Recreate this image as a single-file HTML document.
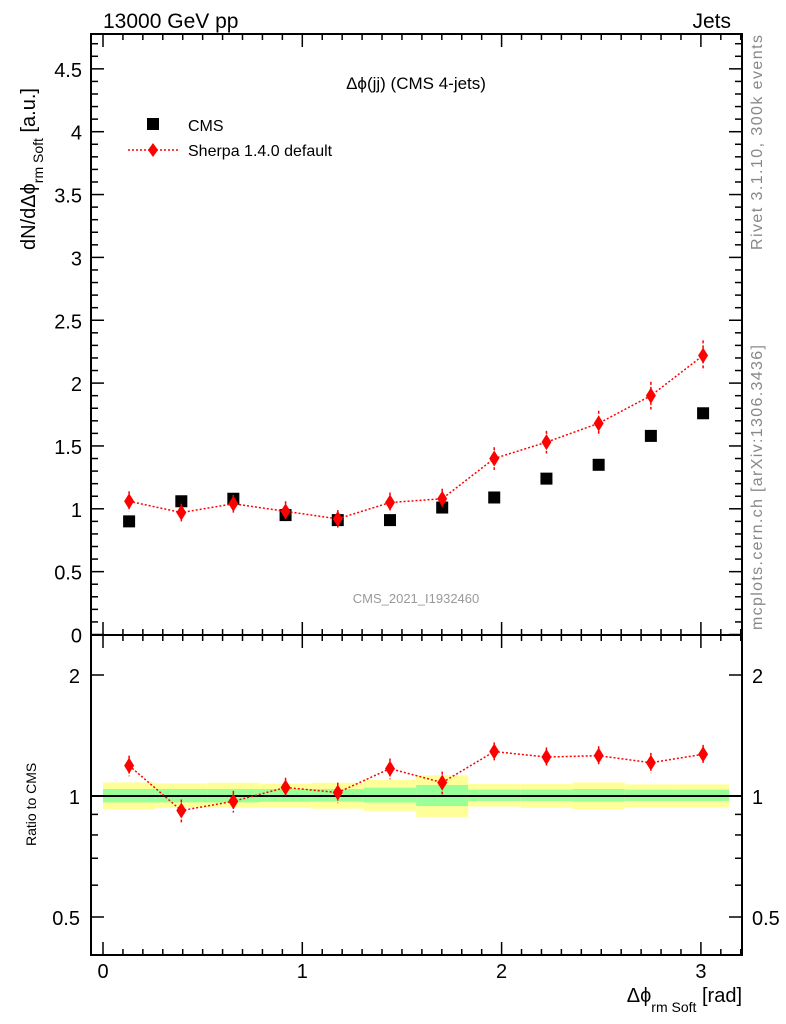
<!DOCTYPE html>
<html><head><meta charset="utf-8"><style>
body{margin:0;background:#fff;}
svg{display:block;font-family:"Liberation Sans",sans-serif;}
</style></head><body>
<svg id="c" width="786" height="1024" viewBox="0 0 786 1024">
<g id="bands"></g>
<g id="axes"></g>
<g id="marks"></g>
<text x="103" y="28" font-size="21">13000 GeV pp</text>
<text x="731" y="28" font-size="21" text-anchor="end">Jets</text>
<text x="416" y="89" font-size="17" text-anchor="middle">Δϕ(jj) (CMS 4-jets)</text>
<rect x="147" y="118" width="12" height="12" fill="#000"/>
<text x="188" y="131" font-size="16">CMS</text>
<line x1="128" y1="150" x2="178" y2="150" stroke="red" stroke-width="1.5" stroke-dasharray="2,2"/>
<polygon points="153,143 158,150 153,157 148,150" fill="red"/>
<text x="188" y="156" font-size="16">Sherpa 1.4.0 default</text>
<text x="416" y="603" font-size="13" fill="#999" text-anchor="middle">CMS_2021_I1932460</text>
<text transform="translate(762,250) rotate(-90)" font-size="16" fill="#888" textLength="215">Rivet 3.1.10,  300k events</text>
<text transform="translate(762,630) rotate(-90)" font-size="16" fill="#888" textLength="285">mcplots.cern.ch [arXiv:1306.3436]</text>
<text transform="translate(35,250) rotate(-90)" font-size="20">dN/dΔϕ<tspan font-size="14" dy="8">rm Soft</tspan><tspan dy="-8"> [a.u.]</tspan></text>
<text transform="translate(36,846) rotate(-90)" font-size="14">Ratio to CMS</text>
<text x="742" y="1002" font-size="20" text-anchor="end">Δϕ<tspan font-size="14" dy="10">rm Soft</tspan><tspan dy="-10"> [rad]</tspan></text>
</svg>
<script>
const categories=[0.131,0.393,0.654,0.916,1.178,1.440,1.702,1.963,2.225,2.487,2.749,3.011];
const binWidth=0.2618;
const cmsValues=[0.90,1.06,1.08,0.95,0.91,0.91,1.01,1.09,1.24,1.35,1.58,1.76];
const sherpaValues=[1.06,0.97,1.04,0.98,0.92,1.05,1.08,1.40,1.53,1.68,1.90,2.22];
const sherpaErrors=[0.08,0.07,0.07,0.08,0.07,0.08,0.08,0.09,0.09,0.10,0.11,0.12];
const ratioValues=[1.19,0.92,0.97,1.05,1.02,1.17,1.08,1.29,1.25,1.26,1.21,1.27];
const ratioErrors=[0.07,0.06,0.06,0.06,0.06,0.07,0.07,0.07,0.07,0.07,0.07,0.07];
const yellowHi=[1.081,1.075,1.079,1.073,1.079,1.096,1.126,1.071,1.071,1.081,1.069,1.069];
const yellowLo=[0.925,0.935,0.935,0.935,0.930,0.919,0.887,0.941,0.935,0.928,0.937,0.937];
const greenHi=[1.041,1.041,1.041,1.041,1.041,1.049,1.065,1.037,1.037,1.041,1.037,1.037];
const greenLo=[0.964,0.964,0.964,0.968,0.968,0.963,0.944,0.972,0.972,0.968,0.972,0.972];
const mainYTicks=[0,0.5,1,1.5,2,2.5,3,3.5,4,4.5];
const ratioYTicks=[0.5,1,2];
const xTicks=[0,1,2,3];

const NS="http://www.w3.org/2000/svg";
const L=91,R=742,T=34,M=635,B=955;
const X=v=>103+v*199.3;
const Y=v=>634.5-v*125.7;
const RY=v=>796-Math.log2(v)*121;
function mk(parent,tag,attrs){const e=document.createElementNS(NS,tag);for(const k in attrs)e.setAttribute(k,attrs[k]);document.getElementById(parent).appendChild(e);return e;}

categories.forEach((c,i)=>{
 const x0=Math.max(L+1,X(c-binWidth/2)),x1=Math.min(R,X(c+binWidth/2));
 let e=mk('bands','rect',{x:x0,y:RY(yellowHi[i]),width:x1-x0,height:RY(yellowLo[i])-RY(yellowHi[i]),fill:'#ffff99'});
 
 
 e=mk('bands','rect',{x:x0,y:RY(greenHi[i]),width:x1-x0,height:RY(greenLo[i])-RY(greenHi[i]),fill:'#99ff99'});
 
 
});
let ref=mk('bands','line',{x1:L,x2:R,y1:RY(1),y2:RY(1),stroke:'#000','stroke-width':2});



[[T,M],[M,B]].forEach(([a,b],k)=>{
 const e=mk('axes','rect',{x:L,y:a,width:R-L,height:b-a,fill:'none',stroke:'#000','stroke-width':2});
 
 
});
for(let v=0;v<=4.75;v=Math.round((v+0.1)*10)/10){
 const y=Y(v);const major=Math.abs(v*2-Math.round(v*2))<1e-6;const len=major?13:7;
 mk('axes','line',{x1:L,x2:L+len,y1:y,y2:y,stroke:'#000','stroke-width':1.5});
 mk('axes','line',{x1:R-len,x2:R,y1:y,y2:y,stroke:'#000','stroke-width':1.5});
}
mainYTicks.forEach(v=>{const t=mk('axes','text',{x:82,y:Y(v)+8,'font-size':20,'text-anchor':'end'});t.textContent=v;
 
 });
[0.5,0.6,0.7,0.8,0.9,1,2].forEach(v=>{const y=RY(v);const major=ratioYTicks.includes(v);const len=major?13:7;
 mk('axes','line',{x1:L,x2:L+len,y1:y,y2:y,stroke:'#000','stroke-width':1.5});
 mk('axes','line',{x1:R-len,x2:R,y1:y,y2:y,stroke:'#000','stroke-width':1.5});});
ratioYTicks.forEach(v=>{
 let t=mk('axes','text',{x:80,y:RY(v)+8,'font-size':20,'text-anchor':'end'});t.textContent=v;
 
 
 t=mk('axes','text',{x:752,y:RY(v)+8,'font-size':20});t.textContent=v;
 
 });
for(let v=0;v<=3.2;v=Math.round((v+0.1)*10)/10){
 const x=X(v);const major=Math.abs(v-Math.round(v))<1e-6;const len=major?13:6;
 [[T,1],[M,1],[M,-1],[B,-1]].forEach(([y,d])=>mk('axes','line',{x1:x,x2:x,y1:y,y2:y+d*len,stroke:'#000','stroke-width':1.5}));
}
xTicks.forEach(v=>{const t=mk('axes','text',{x:X(v),y:978,'font-size':20,'text-anchor':'middle'});t.textContent=v;
 
 });

function diamond(x,y){return `${x},${y-8} ${x+5},${y} ${x},${y+8} ${x-5},${y}`;}
function series(vals,errs,yf,name){
 const pl=mk('marks','polyline',{points:categories.map((c,i)=>X(c)+','+yf(vals[i])).join(' '),fill:'none',stroke:'red','stroke-width':1.5,'stroke-dasharray':'2,2'});
 
 
 categories.forEach((c,i)=>{
  const x=X(c);
  const e=mk('marks','line',{x1:x,x2:x,y1:yf(vals[i]+errs[i]),y2:yf(vals[i]-errs[i]),stroke:'red','stroke-width':1.5,'stroke-dasharray':'3,2'});
  
  
  const p=mk('marks','polygon',{points:diamond(x,yf(vals[i])),fill:'red'});
  
  
 });
}
categories.forEach((c,i)=>{
 const r=mk('marks','rect',{x:X(c)-6,y:Y(cmsValues[i])-6,width:12,height:12,fill:'#000'});
 
 
});
series(sherpaValues,sherpaErrors,Y,'sherpa');
series(ratioValues,ratioErrors,RY,'ratio-sherpa');
</script>
</body></html>
